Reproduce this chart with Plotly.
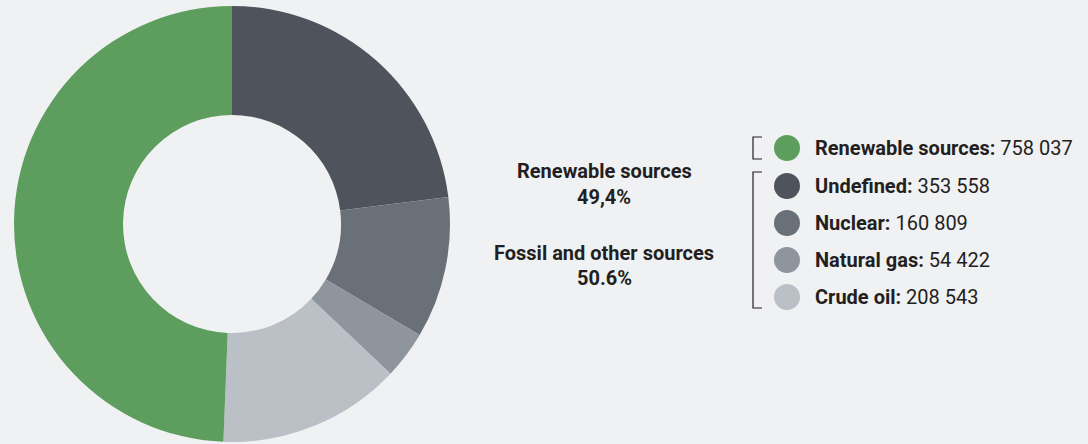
import plotly.graph_objects as go

W, H = 1088, 444

labels = ["Undefined", "Nuclear", "Natural gas", "Crude oil", "Renewable sources"]
values = [353558, 160809, 54422, 208543, 758037]
colors = ["#4f545c", "#6a7078", "#8e959c", "#bbbfc6", "#5d9e5e"]
value_labels = ["353 558", "160 809", "54 422", "208 543", "758 037"]

summary_names = ["Renewable sources", "Fossil and other sources"]
summary_pcts = ["49,4%", "50.6%"]

legend_order = [4, 0, 1, 2, 3]

BG = "#f0f1f3"
FONT = "Roboto"
TXT = "#231f20"

fig = go.Figure()
fig.add_trace(go.Pie(
    labels=labels, values=values, sort=False, direction="clockwise", rotation=0,
    hole=0.5, marker=dict(colors=colors, line=dict(width=0)),
    textinfo="none", hoverinfo="label+value+percent", showlegend=False,
    domain=dict(x=[14 / W, 450 / W], y=[1 - 442 / H, 1 - 6 / H]),
))

ann = []
shapes = []
# center summary text
ys = [(171, 197), (253, 278)]
for (yn, yp), name, pct in zip(ys, summary_names, summary_pcts):
    ann.append(dict(x=604 / W, y=1 - yn / H, xref="paper", yref="paper", text=f"<b>{name}</b>",
                    showarrow=False, xanchor="center", yanchor="middle",
                    font=dict(family=FONT, size=20, color=TXT)))
    ann.append(dict(x=604 / W, y=1 - yp / H, xref="paper", yref="paper", text=f"<b>{pct}</b>",
                    showarrow=False, xanchor="center", yanchor="middle",
                    font=dict(family=FONT, size=20, color=TXT)))

# legend
leg_y = [148, 186, 223, 260, 297]
for yy, i in zip(leg_y, legend_order):
    shapes.append(dict(type="circle", xref="paper", yref="paper",
                       x0=774 / W, x1=800 / W, y0=1 - (yy + 13) / H, y1=1 - (yy - 13) / H,
                       fillcolor=colors[i], line=dict(width=0)))
    ann.append(dict(x=813 / W, y=1 - yy / H, xref="paper", yref="paper",
                    text=f"<b>{labels[i]}:</b> {value_labels[i]}",
                    showarrow=False, xanchor="left", yanchor="middle",
                    font=dict(family=FONT, size=20, color=TXT)))

# brackets
def bracket(y0, y1):
    pts = [(762, y0), (753, y0), (753, y1), (762, y1)]
    path = "M " + " L ".join(f"{x / W},{1 - y / H}" for x, y in pts)
    shapes.append(dict(type="path", xref="paper", yref="paper", path=path,
                       line=dict(color="#231f20", width=1.2)))

bracket(137, 159)
bracket(172, 308)

fig.update_layout(
    width=W, height=H, margin=dict(l=0, r=0, t=0, b=0),
    paper_bgcolor=BG, plot_bgcolor=BG,
    annotations=ann, shapes=shapes,
)
fig.write_html("out.html")
